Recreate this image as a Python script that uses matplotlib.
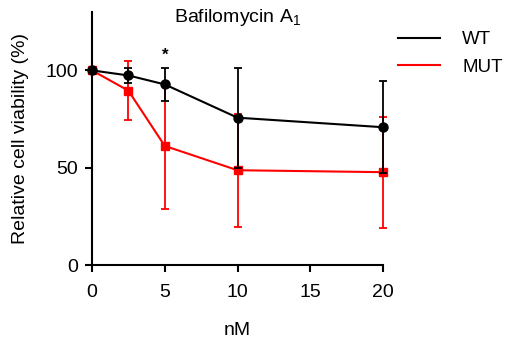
import matplotlib.pyplot as plt
from matplotlib.lines import Line2D

plt.rcParams['font.family'] = ['Liberation Sans', 'DejaVu Sans']
plt.rcParams['mathtext.fontset'] = 'custom'
plt.rcParams['mathtext.rm'] = 'Liberation Sans'

# data
dose = [0, 2.5, 5, 10, 20]
wt_mean = [100, 97.4, 92.8, 75.7, 70.8]
wt_sd = [0, 3.8, 8.3, 25.7, 23.6]
mut_mean = [100, 89.6, 61.2, 48.7, 47.7]
mut_sd = [0, 15.0, 32.5, 29.1, 28.5]

fig = plt.figure(figsize=(5.06, 3.43), dpi=100)
ax = fig.add_axes([0.1818, 0.2274, 0.5752, 0.7376])

ax.errorbar(dose, mut_mean, yerr=mut_sd, color='#ff0000', marker='s', markersize=6,
            lw=1.5, elinewidth=1.3, capsize=3.2, capthick=1.3, clip_on=False, zorder=2)
ax.errorbar(dose, wt_mean, yerr=wt_sd, color='black', marker='o', markersize=6.5,
            lw=1.5, elinewidth=1.3, capsize=3.2, capthick=1.3, clip_on=False, zorder=3)

# significance mark
ax.text(5, 104, '*', ha='center', va='bottom', fontsize=12, fontweight='bold')

ax.set_xlim(0, 20)
ax.set_ylim(0, 130)
ax.set_xticks([0, 5, 10, 15, 20])
ax.set_yticks([0, 50, 100])
for s in ['top', 'right']:
    ax.spines[s].set_visible(False)
for s in ['left', 'bottom']:
    ax.spines[s].set_linewidth(1.5)
ax.tick_params(direction='out', length=5, width=1.5, labelsize=14)
ax.tick_params(axis='x', pad=9)
ax.tick_params(axis='y', pad=5)

fig.text(237.5 / 506, 1 - 18 / 343, 'Bafilomycin A$_1$', ha='center', va='center', fontsize=14)
ax.set_xlabel('nM', fontsize=14, labelpad=15)
ax.set_ylabel('Relative cell viability (%)', fontsize=14, labelpad=12)

handles = [Line2D([], [], color='black', lw=1.5), Line2D([], [], color='#ff0000', lw=1.5)]
fig.legend(handles, ['WT', 'MUT'], loc='upper left', bbox_to_anchor=(0.754, 0.959),
           frameon=False, fontsize=13.5, handlelength=2.2, handletextpad=1.2, labelspacing=0.55)

fig.savefig('out.png', dpi=100)
